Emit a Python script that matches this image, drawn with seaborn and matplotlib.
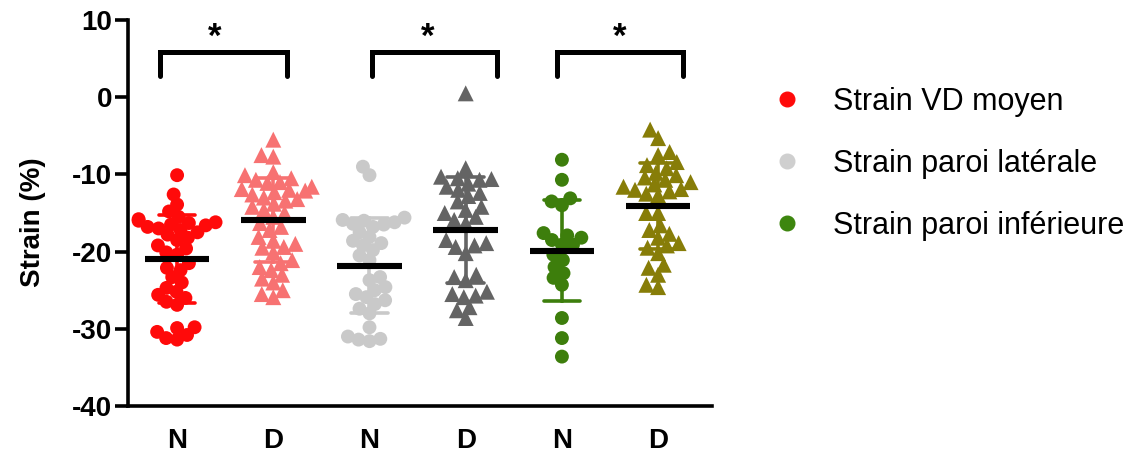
import numpy as np
import pandas as pd
import matplotlib
matplotlib.use("Agg")
import matplotlib.pyplot as plt
import seaborn as sns
from matplotlib.lines import Line2D

# ---------------- data ----------------
categories = ["N1", "D1", "N2", "D2", "N3", "D3"]
tick_labels = ["N", "D", "N", "D", "N", "D"]
series_names = ["Strain VD moyen", "Strain paroi latérale", "Strain paroi inférieure"]

vd_N = [-10.1, -12.6, -13.9, -14.8, -15.5, -15.8, -16.0, -16.2, -16.3, -16.5, -16.6,
        -16.8, -17.0, -17.2, -17.5, -17.8, -18.2, -18.5, -19.2, -19.6, -20.1, -20.4,
        -21.5, -22.1, -22.4, -23.3, -24.0, -24.7, -25.2, -25.6, -26.0, -26.5, -26.9,
        -29.8, -30.4, -31.2, -31.4, -30.8, -29.9]
vd_D = [-5.5, -7.5, -7.7, -9.7, -10.1, -10.5, -10.7, -11.0, -11.1, -11.6, -11.9, -12.0,
        -12.1, -12.3, -12.6, -13.0, -13.2, -13.4, -13.8, -14.2, -14.6, -15.0, -15.5,
        -16.3, -16.8, -17.2, -18.1, -18.6, -19.0, -19.4, -19.5, -20.1, -21.1, -21.5,
        -22.0, -22.4, -23.0, -23.5, -24.0, -25.0, -25.5, -25.9]
lat_N = [-9.0, -10.1, -15.6, -15.9, -16.0, -16.2, -16.4, -16.5, -16.8, -17.5, -18.1,
         -18.6, -18.9, -19.2, -19.8, -20.5, -21.1, -23.3, -23.7, -24.6, -25.0, -25.5,
         -25.9, -26.3, -26.8, -27.4, -28.0, -29.8, -31.0, -31.4, -31.6, -31.3]
lat_D = [0.5, -9.2, -10.3, -10.5, -10.6, -10.7, -11.2, -11.6, -12.0, -12.4, -12.8,
         -13.5, -14.2, -14.6, -15.0, -15.5, -15.9, -16.3, -18.5, -18.9, -19.2, -19.4,
         -20.2, -23.0, -23.3, -23.7, -25.2, -25.5, -25.7, -25.9, -27.2, -27.6, -28.6]
inf_N = [-8.1, -10.7, -13.1, -13.5, -14.0, -17.6, -17.9, -18.2, -18.5, -19.1, -19.1,
         -20.4, -21.1, -22.0, -22.8, -23.4, -24.3, -28.6, -31.2, -33.6]
inf_D = [-4.2, -5.3, -7.1, -7.5, -8.4, -8.8, -9.2, -9.8, -10.1, -10.4, -10.7, -11.0,
         -11.3, -11.6, -11.9, -12.0, -12.2, -12.5, -12.7, -15.0, -15.0, -16.6, -17.2,
         -17.7, -18.2, -18.9, -19.2, -19.5, -20.2, -21.7, -22.1, -23.0, -24.6, -24.3]

series_values = [vd_N, vd_D, lat_N, lat_D, inf_N, inf_D]
sig_pairs = [("N1", "D1"), ("N2", "D2"), ("N3", "D3")]
sig_labels = ["*", "*", "*"]

colors = {"N1": "#FF0A0A", "D1": "#F77272", "N2": "#C9C9C9",
          "D2": "#646464", "N3": "#3D7E0C", "D3": "#877D08"}
legend_colors = ["#FF0A0A", "#CFCFCF", "#3D860E"]

# ---------------- build frame ----------------
df = pd.DataFrame({
    "group": np.concatenate([[c] * len(v) for c, v in zip(categories, series_values)]),
    "strain": np.concatenate(series_values),
})

sns.set_theme(style="ticks")
plt.rcParams["font.family"] = ["Liberation Sans", "DejaVu Sans"]
plt.rcParams["font.weight"] = "bold"
plt.rcParams["axes.unicode_minus"] = False
for k in ["text.color", "axes.labelcolor", "xtick.color", "ytick.color"]:
    plt.rcParams[k] = "black"

fig = plt.figure(figsize=(11.41, 4.61), dpi=100)
ax = fig.add_axes([0.1122, 0.1193, 0.5118, 0.8373])

n_groups = [c for c in categories if c.startswith("N")]
d_groups = [c for c in categories if c.startswith("D")]

n0 = len(ax.collections)
sns.swarmplot(data=df[df.group.isin(n_groups)], x="group", y="strain", order=categories,
              hue="group", hue_order=n_groups, palette=colors, marker="o", size=7.6,
              linewidth=0, legend=False, warn_thresh=1, ax=ax)
n1 = len(ax.collections)
sns.swarmplot(data=df[df.group.isin(d_groups)], x="group", y="strain", order=categories,
              hue="group", hue_order=d_groups, palette=colors, marker="^", size=8.2,
              linewidth=0, legend=False, warn_thresh=1, ax=ax)
n2 = len(ax.collections)

# SD error bars
sns.pointplot(data=df, x="group", y="strain", order=categories, hue="group",
              hue_order=categories, palette=colors, errorbar="sd", capsize=0.38,
              linestyle="none", marker="", dodge=False, legend=False,
              err_kws={"linewidth": 2.6}, ax=ax)

# mean bars
means = df.groupby("group")["strain"].mean().reindex(categories)
xpos = np.arange(len(categories))
ax.hlines(means.values, xpos - 0.335, xpos + 0.335, color="black", linewidth=4.4, zorder=10)

# significance brackets
bracket_pads = [(-0.18, 0.14), (0.03, 0.33), (-0.05, 0.26)]
star_shift = [-0.085, -0.08, 0.0]
for (a, b), (pl, pr), sh, lab in zip(sig_pairs, bracket_pads, star_shift, sig_labels):
    xa = categories.index(a) + pl
    xb = categories.index(b) + pr
    ax.plot([xa, xa, xb, xb], [2.8, 5.9, 5.9, 2.8], color="black", linewidth=3.6,
            solid_joinstyle="miter", solid_capstyle="round", clip_on=False, zorder=12)
    ax.text((xa + xb) / 2 + sh, 7.7, lab, ha="center", va="center", fontsize=25,
            fontweight="bold", color="black")

# axes styling
ax.set_xlim(-0.51, 5.56)
ax.set_ylim(-40, 10)
ax.set_yticks([-40, -30, -20, -10, 0, 10])
ax.set_xticks(xpos)
ax.set_xticklabels(tick_labels)
ax.tick_params(axis="y", length=9.5, width=2.6, labelsize=20, pad=2, color="black")
ax.tick_params(axis="x", length=0, labelsize=20, pad=16)
for lbl in ax.get_xticklabels() + ax.get_yticklabels():
    lbl.set_fontweight("bold")
sns.despine(ax=ax)
for s in ["left", "bottom"]:
    ax.spines[s].set_linewidth(2.6)
    ax.spines[s].set_color("black")
ax.set_xlabel("")
ax.set_ylabel("Strain (%)", fontsize=20, fontweight="bold")
ax.yaxis.set_label_coords(-0.14, 0.477)

# legend
handles = [Line2D([], [], marker="o", linestyle="", color=c, markersize=10.5)
           for c in legend_colors]
fig.legend(handles, series_names, loc="upper left", bbox_to_anchor=(0.652, 0.872),
           frameon=False, prop={"size": 22, "weight": "normal"},
           labelspacing=1.05, handletextpad=1.0, handlelength=1.0)

# lay out the swarms with compact spacing, then show the markers at full size
fig.canvas.draw()
for i, coll in enumerate(ax.collections[n0:n2]):
    if "draw" in coll.__dict__:
        del coll.draw
    coll.set_sizes([10.0 ** 2] if i < n1 - n0 else [11.5 ** 2])

fig.savefig("out.png", dpi=100)
